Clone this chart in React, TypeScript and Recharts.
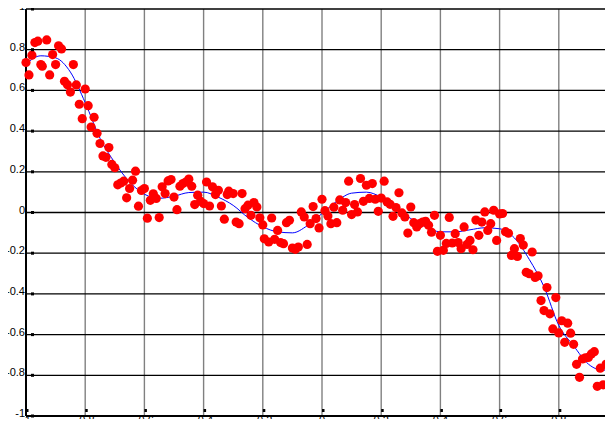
import { ComposedChart, Scatter, Line, XAxis, YAxis, CartesianGrid } from "recharts";

// axis ticks
const tickValues = [-1, -0.8, -0.6, -0.4, -0.2, 0, 0.2, 0.4, 0.6, 0.8, 1];
const tickLabels = ["-1", "-0.8", "-0.6", "-0.4", "-0.2", "0", "0.2", "0.4", "0.6", "0.8", "1"];

// noisy samples (red dots)
const dotX = [
  -1.0, -0.99, -0.98, -0.97, -0.96, -0.93, -0.95, -0.945, -0.92, -0.91,
  -0.9, -0.89, -0.88, -0.84, -0.87, -0.86, -0.85, -0.83, -0.8, -0.82,
  -0.79, -0.81, -0.77, -0.78, -0.76, -0.75, -0.72, -0.74, -0.73, -0.71,
  -0.7, -0.63, -0.69, -0.68, -0.67, -0.64, -0.65, -0.66, -0.62, -0.61,
  -0.6, -0.58, -0.59, -0.57, -0.56, -0.55, -0.54, -0.53, -0.52, -0.51,
  -0.5, -0.49, -0.48, -0.47, -0.46, -0.45, -0.44, -0.43, -0.42, -0.41,
  -0.4, -0.39, -0.38, -0.37, -0.36, -0.35, -0.34, -0.33, -0.32, -0.315,
  -0.3, -0.29, -0.28, -0.27, -0.26, -0.25, -0.24, -0.23, -0.22, -0.21,
  -0.2, -0.195, -0.18, -0.17, -0.16, -0.15, -0.14, -0.13, -0.12, -0.11,
  -0.1, -0.09, -0.08, -0.07, -0.06, -0.05, -0.04, -0.03, -0.02, -0.01,
  0.0, 0.01, 0.02, 0.03, 0.04, 0.05, 0.06, 0.07, 0.08, 0.09,
  0.1, 0.11, 0.12, 0.13, 0.14, 0.15, 0.16, 0.17, 0.18, 0.19,
  0.2, 0.21, 0.22, 0.23, 0.26, 0.25, 0.24, 0.27, 0.28, 0.3,
  0.29, 0.31, 0.32, 0.33, 0.34, 0.35, 0.36, 0.37, 0.38, 0.39,
  0.4, 0.41, 0.42, 0.43, 0.44, 0.45, 0.46, 0.47, 0.48, 0.49,
  0.5, 0.51, 0.52, 0.53, 0.54, 0.55, 0.56, 0.57, 0.58, 0.59,
  0.6, 0.61, 0.62, 0.63, 0.67, 0.68, 0.65, 0.64, 0.66, 0.71,
  0.69, 0.7, 0.72, 0.73, 0.76, 0.79, 0.74, 0.75, 0.77, 0.81,
  0.83, 0.78, 0.8, 0.84, 0.82, 0.85, 0.86, 0.87, 0.88, 0.89,
  0.9, 0.91, 0.92, 0.94, 0.96, 0.97, 0.98, 0.93, 0.95,
];
const dotY = [
  0.737, 0.676, 0.773, 0.835, 0.842, 0.848, 0.727, 0.719, 0.676, 0.776,
  0.727, 0.819, 0.804, 0.727, 0.645, 0.628, 0.592, 0.627, 0.607, 0.532,
  0.525, 0.461, 0.468, 0.42, 0.389, 0.339, 0.319, 0.278, 0.271, 0.236,
  0.22, 0.203, 0.136, 0.145, 0.154, 0.159, 0.118, 0.072, 0.031, 0.108,
  0.118, 0.06, -0.028, 0.092, 0.069, -0.025, 0.126, 0.093, 0.155, 0.162,
  0.076, 0.014, 0.129, 0.142, 0.15, 0.164, 0.129, 0.039, 0.085, 0.055,
  0.044, 0.15, 0.032, 0.126, 0.088, 0.109, 0.032, -0.033, 0.088, 0.105,
  0.093, -0.047, -0.055, 0.093, 0.019, 0.036, -0.014, 0.049, 0.027, -0.026,
  -0.061, -0.129, -0.145, -0.027, -0.132, -0.088, -0.148, -0.153, -0.05, -0.038,
  -0.175, -0.181, -0.17, 0.003, -0.022, -0.157, -0.055, 0.029, -0.03, -0.076,
  0.065, 0.009, -0.017, -0.055, 0.026, -0.05, 0.062, 0.011, 0.049, 0.154,
  -0.01, 0.039, 0.003, 0.167, 0.055, 0.134, 0.069, 0.142, 0.065, 0.006,
  0.071, 0.154, 0.052, 0.04, 0.097, 0.024, -0.019, -0.002, -0.022, 0.027,
  -0.101, -0.05, -0.071, -0.055, -0.047, -0.043, -0.063, -0.097, -0.014, -0.191,
  -0.112, -0.186, -0.152, -0.024, -0.15, -0.104, -0.148, -0.178, -0.071, -0.157,
  -0.137, -0.183, -0.037, -0.112, -0.047, 0.003, -0.088, -0.055, 0.011, -0.137,
  -0.007, -0.005, -0.094, -0.102, -0.128, -0.16, -0.178, -0.211, -0.216, -0.194,
  -0.294, -0.301, -0.319, -0.311, -0.369, -0.418, -0.433, -0.482, -0.498, -0.532,
  -0.544, -0.572, -0.592, -0.593, -0.638, -0.648, -0.746, -0.81, -0.72, -0.714,
  -0.712, -0.695, -0.684, -0.765, -0.745, -0.761, -0.672, -0.854, -0.847,
];

// fitted curve (blue line)
const curveX = [
  -1.0, -0.95, -0.9, -0.85, -0.8, -0.75, -0.7, -0.65, -0.6, -0.55,
  -0.5, -0.45, -0.4, -0.35, -0.3, -0.25, -0.2, -0.15, -0.1, -0.05,
  0.0, 0.05, 0.1, 0.15, 0.2, 0.25, 0.3, 0.35, 0.4, 0.45,
  0.5, 0.55, 0.6, 0.65, 0.7, 0.75, 0.8, 0.85, 0.9, 0.95, 1.0,
];
const curveY = [
  0.73, 0.77, 0.76, 0.69, 0.54, 0.365, 0.245, 0.15, 0.09, 0.07,
  0.08, 0.098, 0.1, 0.075, 0.035, -0.025, -0.07, -0.095, -0.1, -0.065,
  -0.005, 0.055, 0.095, 0.1, 0.075, 0.025, -0.03, -0.07, -0.095, -0.095,
  -0.085, -0.075, -0.08, -0.125, -0.23, -0.365, -0.555, -0.655, -0.745, -0.775, -0.755,
];

const dots = dotX.map((x, i) => ({ x, y: dotY[i] }));
const curve = curveX.map((x, i) => ({ x, y: curveY[i] }));

const font = "'Liberation Sans', Arial, sans-serif";

// plot box edges in chart pixels (margin + axis sizes below)
const W = 630;
const H = 427;
const LEFT = 26;
const TOP = 9;
const RIGHT_M = 12;
const X_AXIS_H = 11;
const BOTTOM = H - X_AXIS_H;
const RIGHT = W - RIGHT_M;

const labelOf = (v: number) => {
  const i = tickValues.findIndex((t) => Math.abs(t - v) < 1e-9);
  return i >= 0 ? tickLabels[i] : String(v);
};

const LeftTick = (props: any) => {
  const { y, payload } = props;
  return (
    <g>
      <text x={LEFT - 1} y={y + 1} textAnchor="end" fontSize={11} fontFamily={font} fill="#000">
        {labelOf(payload.value)}
      </text>
      <rect x={LEFT + 5} y={y - 1.5} width={3} height={3} fill="#000" />
    </g>
  );
};

const BottomTick = (props: any) => {
  const { x, payload } = props;
  return (
    <g>
      <text x={x} y={BOTTOM + 8} textAnchor="middle" fontSize={11} fontFamily={font} fill="#000">
        {labelOf(payload.value)}
      </text>
      <rect x={x} y={BOTTOM - 7} width={2.5} height={3} fill="#000" />
    </g>
  );
};

const TopTick = (props: any) => {
  const { x } = props;
  return <rect x={x} y={TOP + 3} width={2.5} height={3} fill="#000" />;
};

const RightTick = (props: any) => {
  const { y } = props;
  return <rect x={RIGHT - 8} y={y - 1.5} width={3} height={3} fill="#000" />;
};

export default function App() {
  return (
    <div style={{ margin: -8, width: 613, height: 427, overflow: "hidden", background: "#fff" }}>
      <ComposedChart width={W} height={H} margin={{ top: TOP, right: RIGHT_M, bottom: 0, left: 0 }}>
        <CartesianGrid horizontal={false} stroke="#808080" strokeWidth={1.4} />
        <CartesianGrid vertical={false} stroke="#000" strokeWidth={1.3} />

        <XAxis
          type="number"
          dataKey="x"
          domain={[-1, 1]}
          ticks={tickValues}
          height={X_AXIS_H}
          axisLine={{ stroke: "#000", strokeWidth: 2 }}
          tickLine={false}
          tick={<BottomTick />}
          interval={0}
        />
        <XAxis
          xAxisId="top"
          orientation="top"
          type="number"
          domain={[-1, 1]}
          ticks={tickValues}
          height={0}
          axisLine={false}
          tickLine={false}
          tick={<TopTick />}
          interval={0}
        />
        <YAxis
          type="number"
          domain={[-1, 1]}
          ticks={tickValues}
          width={LEFT}
          axisLine={{ stroke: "#000", strokeWidth: 2 }}
          tickLine={false}
          tick={<LeftTick />}
          interval={0}
        />
        <YAxis
          yAxisId="right"
          orientation="right"
          type="number"
          domain={[-1, 1]}
          ticks={tickValues}
          width={0}
          axisLine={false}
          tickLine={false}
          tick={<RightTick />}
          interval={0}
        />

        <Scatter
          data={dots}
          dataKey="y"
          isAnimationActive={false}
          shape={(p: any) => <circle cx={p.cx} cy={p.cy} r={4.6} fill="#ff0000" />}
        />
        <Line
          data={curve}
          dataKey="y"
          type="monotone"
          stroke="#0000ff"
          strokeWidth={1}
          dot={false}
          activeDot={false}
          isAnimationActive={false}
        />
      </ComposedChart>
    </div>
  );
}
